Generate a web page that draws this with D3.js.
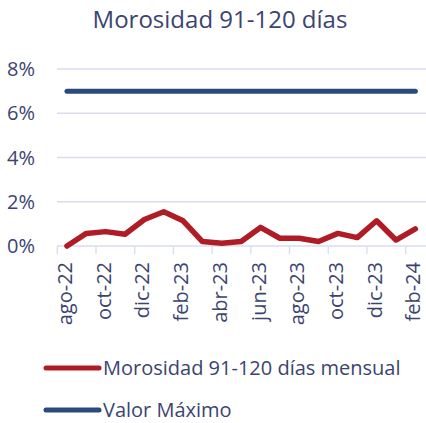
<!DOCTYPE html>
<html>
<head>
<meta charset="utf-8">
<script src="https://cdn.jsdelivr.net/npm/d3@7"></script>
<style>
  body { margin: 0; background: #fff; }
  svg text { font-family: "Open Sans", "Noto Sans", sans-serif; fill: #3b4470; }
</style>
</head>
<body>
<svg id="chart" width="426" height="423"></svg>
<script>
// data
const months = ["ago-22","sep-22","oct-22","nov-22","dic-22","ene-23","feb-23","mar-23","abr-23","may-23",
                "jun-23","jul-23","ago-23","sep-23","oct-23","nov-23","dic-23","ene-24","feb-24"]
const morosidad = [0.0, 0.57, 0.65, 0.53, 1.2, 1.55, 1.14, 0.2, 0.12, 0.2,
                   0.84, 0.35, 0.35, 0.2, 0.57, 0.38, 1.14, 0.27, 0.77]
const valorMaximo = months.map(() => 7)
const yTicks = [0, 2, 4, 6, 8]
const seriesNames = ["Morosidad 91-120 días mensual", "Valor Máximo"]
const title = "Morosidad 91-120 días"

const red = "#b01c26", blue = "#2b4a7b"
const svg = d3.select("#chart")

let xScale = d3.scaleBand().domain(months).range([57.3, 425]).padding(0)
let yScale = d3.scaleLinear().domain([0, 8]).range([246, 69])
const xc = d => xScale(d) + xScale.bandwidth() / 2

// gridlines
svg.append("g").selectAll("line")
    .data(yTicks)
    .enter().append("line")
    .attr("x1", 57).attr("x2", 426)
    .attr("y1", d => yScale(d)).attr("y2", d => yScale(d))
    .attr("stroke", "#d9dcef").attr("stroke-width", 1.3)

// y labels
svg.append("g").selectAll("text")
    .data(yTicks)
    .enter().append("text")
    .attr("x", 35).attr("y", d => yScale(d) + 7)
    .attr("text-anchor", "end")
    .style("font-size", "20px")
    .text(d => d + "%")

// x axis ticks at every second category boundary
const tickMonths = months.filter((d, i) => i % 2 == 0)
svg.append("g").selectAll("line")
    .data(tickMonths)
    .enter().append("line")
    .attr("x1", d => xScale(d)).attr("x2", d => xScale(d))
    .attr("y1", 246).attr("y2", 254)
    .attr("stroke", "#d9dcef").attr("stroke-width", 1.3)

svg.append("g").selectAll("text")
    .data(tickMonths)
    .enter().append("text")
    .attr("transform", d => `translate(${xc(d) + 5},262) rotate(-90)`)
    .attr("text-anchor", "end")
    .style("font-size", "20px")
    .text(d => d)

// lines
let line = d3.line().x((d, i) => xc(months[i])).y(d => yScale(d))
svg.append("path").datum(valorMaximo)
    .attr("d", line).attr("fill", "none")
    .attr("stroke", blue).attr("stroke-width", 5).attr("stroke-linecap", "round")
svg.append("path").datum(morosidad)
    .attr("d", line).attr("fill", "none")
    .attr("stroke", red).attr("stroke-width", 5.5)
    .attr("stroke-linecap", "round").attr("stroke-linejoin", "round")

// title
svg.append("text")
    .attr("x", 220).attr("y", 28)
    .attr("text-anchor", "middle")
    .style("font-size", "24px")
    .text(title)

// legend
const legColors = [red, blue]
seriesNames.forEach((name, i) => {
    let y = 368 + i * 42
    svg.append("line").attr("x1", 46).attr("x2", 99).attr("y1", y).attr("y2", y)
        .attr("stroke", legColors[i]).attr("stroke-width", 5).attr("stroke-linecap", "round")
    svg.append("text").attr("x", 103).attr("y", y + 7)
        .style("font-size", "20px").text(name)
})
</script>
</body>
</html>
